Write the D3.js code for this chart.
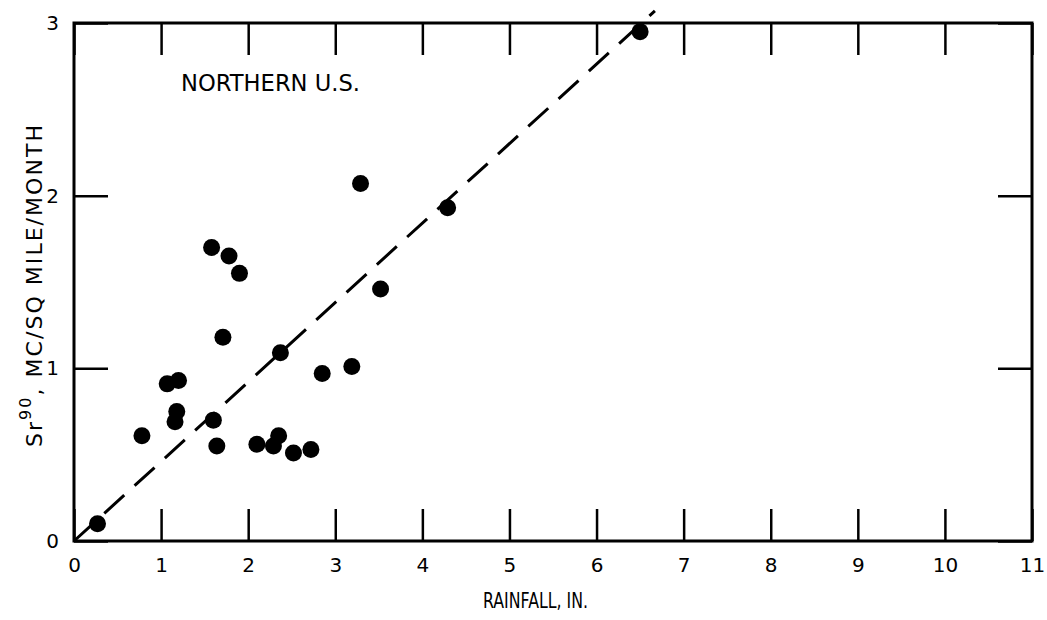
<!DOCTYPE html>
<html>
<head>
<meta charset="utf-8">
<script src="https://cdn.jsdelivr.net/npm/d3@7"></script>
<style>
  body { margin: 0; background: #fff; }
  svg { display: block; }
  .axis text { font-family: "DejaVu Sans", sans-serif; font-size: 20px; fill: #000; }
  .axis line { stroke: #000; stroke-width: 2.5; }
  .axis path { display: none; }
</style>
</head>
<body>
<div id="chart"></div>
<script>
// data
var rainfall = [0.27, 0.78, 1.07, 1.2, 1.18, 1.16, 1.6, 1.64, 1.58, 1.78, 1.9, 1.71,
                2.1, 2.29, 2.35, 2.52, 2.72, 2.37, 2.85, 3.19, 3.29, 3.52, 4.29, 6.5];
var sr90 = [0.10, 0.61, 0.91, 0.93, 0.75, 0.69, 0.70, 0.55, 1.70, 1.65, 1.55, 1.18,
            0.56, 0.55, 0.61, 0.51, 0.53, 1.09, 0.97, 1.01, 2.07, 1.46, 1.93, 2.95];
var xTicks = [0, 1, 2, 3, 4, 5, 6, 7, 8, 9, 10, 11];
var yTicks = [0, 1, 2, 3];
var fitLine = [[0, 0], [6.67, 3.07]];

var width = 1047, height = 620;
var margin = {top: 23, right: 15, bottom: 79, left: 74};
var w = width - margin.left - margin.right;
var h = height - margin.top - margin.bottom;

var svg = d3.select("#chart").append("svg")
    .attr("width", width)
    .attr("height", height)
  .append("g")
    .attr("transform", "translate(" + margin.left + "," + margin.top + ")");

var x = d3.scaleLinear().domain([0, 11]).range([0, w]);
var y = d3.scaleLinear().domain([0, 3]).range([h, 0]);

// bottom axis with labels, ticks pointing inward
svg.append("g")
    .attr("class", "axis")
    .attr("transform", "translate(0," + h + ")")
    .call(d3.axisBottom(x).tickValues(xTicks).tickSize(-32).tickSizeOuter(0).tickPadding(17).tickFormat(d3.format("d")));

svg.append("g")
    .attr("class", "axis")
    .call(d3.axisTop(x).tickValues(xTicks).tickSize(-32).tickSizeOuter(0).tickFormat(""));

svg.append("g")
    .attr("class", "axis")
    .call(d3.axisLeft(y).tickValues(yTicks).tickSize(-34).tickSizeOuter(0).tickPadding(15).tickFormat(d3.format("d")));

svg.append("g")
    .attr("class", "axis")
    .attr("transform", "translate(" + w + ",0)")
    .call(d3.axisRight(y).tickValues(yTicks).tickSize(-34).tickSizeOuter(0).tickFormat(""));

// frame
svg.append("rect")
    .attr("width", w)
    .attr("height", h)
    .attr("fill", "none")
    .attr("stroke", "#000")
    .attr("stroke-width", 3);

// dashed fit line
svg.append("path")
    .datum(fitLine)
    .attr("d", d3.line().x(function(d) { return x(d[0]); }).y(function(d) { return y(d[1]); }))
    .attr("fill", "none")
    .attr("stroke", "#000")
    .attr("stroke-width", 3)
    .attr("stroke-dasharray", "27,14");

// points
svg.selectAll(".dot")
    .data(rainfall)
  .enter().append("circle")
    .attr("class", "dot")
    .attr("cx", function(d) { return x(d); })
    .attr("cy", function(d, i) { return y(sr90[i]); })
    .attr("r", 8.5)
    .attr("fill", "#000");

// labels
svg.append("text")
    .attr("x", 107)
    .attr("y", 68)
    .attr("font-family", "DejaVu Sans, sans-serif")
    .attr("font-size", 23)
    .attr("textLength", 179)
    .attr("lengthAdjust", "spacingAndGlyphs")
    .text("NORTHERN U.S.");

svg.append("text")
    .attr("x", 409)
    .attr("y", h + 67)
    .attr("font-family", "DejaVu Sans, sans-serif")
    .attr("font-size", 21)
    .attr("textLength", 105)
    .attr("lengthAdjust", "spacingAndGlyphs")
    .text("RAINFALL, IN.");

var yt = svg.append("text")
    .attr("transform", "translate(-32," + (447 - margin.top) + ") rotate(-90)")
    .attr("font-family", "DejaVu Sans, sans-serif")
    .attr("font-size", 22)
    .attr("textLength", 322)
    .attr("lengthAdjust", "spacing");
yt.append("tspan").text("Sr");
yt.append("tspan").attr("dy", -11).attr("font-size", 16).text("90");
yt.append("tspan").attr("dy", 11).text(", MC/SQ MILE/MONTH");
</script>
</body>
</html>
